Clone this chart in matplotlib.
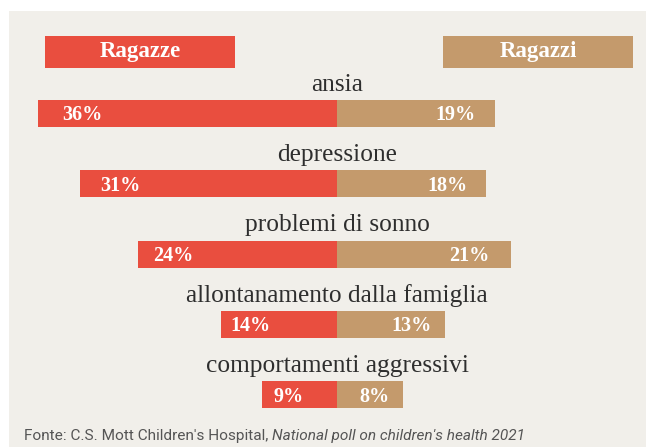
import matplotlib
matplotlib.use('Agg')
import matplotlib.pyplot as plt
from matplotlib.patches import Rectangle

# dati
categorie = ['ansia', 'depressione', 'problemi di sonno',
             'allontanamento dalla famiglia', 'comportamenti aggressivi']
ragazze = [36, 31, 24, 14, 9]
ragazzi = [19, 18, 21, 13, 8]
etichette_serie = ['Ragazze', 'Ragazzi']

ROSSO = '#E94E3F'
OCRA = '#C49A6C'
SFONDO = '#F1EFEA'
TESTO = '#2E2E2E'
GRIGIO = '#555555'

W, H = 646, 447
DPI = 100
PX_PER_PCT = 8.3    # scala orizzontale
CX = 337            # asse centrale in pixel
ROW0, ROW_STEP = 113.5, 70.25

fig = plt.figure(figsize=(W / DPI, H / DPI), dpi=DPI, facecolor='white')

# pannello di sfondo
fig.add_artist(Rectangle((9 / W, 0), (W - 9) / W, (H - 11) / H,
                         transform=fig.transFigure, facecolor=SFONDO,
                         edgecolor='none', zorder=0))

ax = fig.add_axes([0, 0, 1, 1])
ax.set_facecolor('none')
ax.set_xlim(-CX / PX_PER_PCT, (W - CX) / PX_PER_PCT)
ax.set_ylim((H - ROW0) / ROW_STEP, -ROW0 / ROW_STEP)
ax.axis('off')

bar_h = 27 / ROW_STEP
serif = ['Liberation Serif', 'DejaVu Serif']
y = list(range(len(categorie)))

ax.barh(y, [-v for v in ragazze], height=bar_h, color=ROSSO, zorder=2)
ax.barh(y, ragazzi, height=bar_h, color=OCRA, zorder=2)

for i, (cat, f, m) in enumerate(zip(categorie, ragazze, ragazzi)):
    ax.text(0, i - bar_h / 2 - 9 / ROW_STEP, cat, ha='center', va='baseline',
            fontsize=18.3, color=TESTO, family=serif)
    ax.text(-(0.92 * f - 2.4), i + 7 / ROW_STEP, f'{f}%', ha='center',
            va='baseline', fontsize=14.5, color='white', fontweight='bold',
            family=serif, zorder=3)
    ax.text(0.88 * m - 2.5, i + 7 / ROW_STEP, f'{m}%', ha='center',
            va='baseline', fontsize=14.5, color='white', fontweight='bold',
            family=serif, zorder=3)

# legenda a riquadri
for (x0, x1), lab, col in zip([(45, 235), (443, 633)], etichette_serie, [ROSSO, OCRA]):
    fig.add_artist(Rectangle((x0 / W, 1 - 68 / H), (x1 - x0) / W, 32 / H,
                             transform=fig.transFigure, facecolor=col,
                             edgecolor='none', zorder=2))
    fig.text((x0 + x1) / 2 / W, 1 - 57 / H, lab, ha='center', va='baseline',
             fontsize=16.5, color='white', fontweight='bold', family=serif,
             zorder=3)

# fonte
t1 = fig.text(24 / W, 1 - 436 / H, "Fonte: C.S. Mott Children's Hospital, ",
              ha='left', va='center', fontsize=11.1, color=GRIGIO,
              family=['Roboto', 'DejaVu Sans'])
ax.annotate("National poll on children's health 2021", xy=(1, 0.5),
            xycoords=t1, ha='left', va='center', fontsize=11.1, color=GRIGIO,
            style='italic', family=['Roboto', 'DejaVu Sans'])

fig.savefig('out.png', dpi=DPI, facecolor='white')
